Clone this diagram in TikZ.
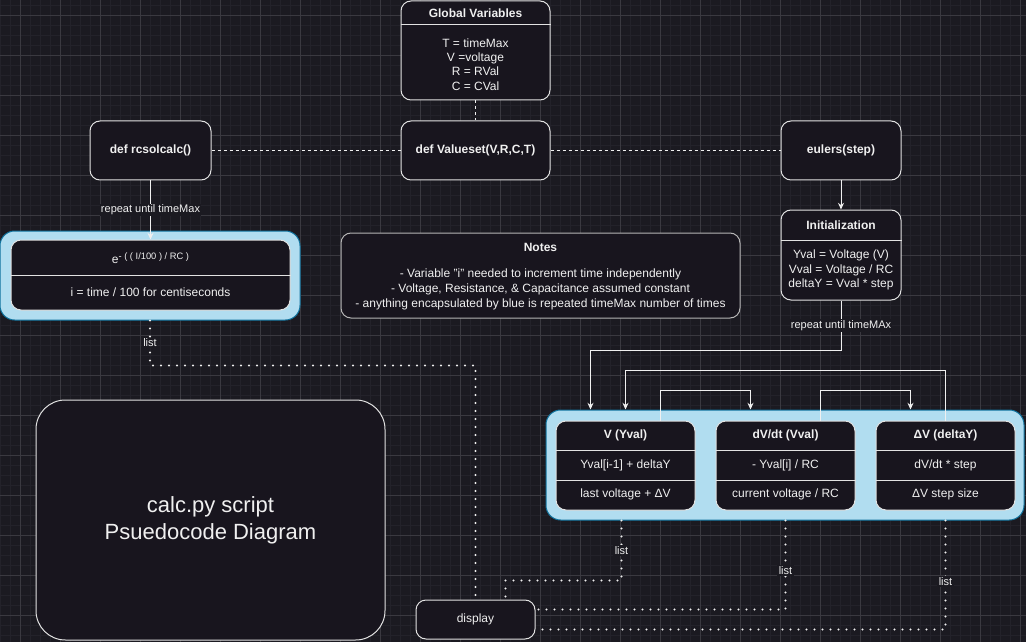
\documentclass[tikz,border=0pt]{standalone}
\usepackage{fontspec}
\setmainfont{Liberation Sans}
\usetikzlibrary{fit,calc,arrows.meta}
\tikzset{>={Stealth[length=5pt,width=4.5pt]}}

\definecolor{canvas}{HTML}{1B1A21}
\definecolor{cellfill}{HTML}{18151E}
\definecolor{gridmajor}{HTML}{3A3940}
\definecolor{gridminor}{HTML}{23222A}
\definecolor{wrapfill}{HTML}{B1DDF0}
\definecolor{wrapline}{HTML}{10739E}
\definecolor{ink}{HTML}{F0F0F0}
\definecolor{edge}{HTML}{E2E2E2}

\tikzset{
  cellbox/.style={draw=edge, fill=cellfill, line width=0.75pt, rounded corners=7.5pt, inner sep=0pt},
  notebox/.style={cellbox, draw=edge!80!black},
  bluewrap/.style={draw=wrapline, fill=wrapfill, line width=0.75pt, rounded corners=11pt, inner sep=0pt},
  rowsep/.style={draw=edge, line width=0.75pt},
  celltext/.style={text=ink, font=\fontsize{9}{10.8}\selectfont, align=center, inner sep=1pt},
  headtext/.style={celltext, font=\fontsize{9}{10.8}\selectfont\bfseries},
  edgetext/.style={text=ink, fill=canvas, font=\fontsize{8.25}{9.9}\selectfont, inner sep=1pt},
  flow/.style={->, draw=ink, line width=0.75pt},
  linkdash/.style={draw=ink, line width=0.75pt, dash pattern=on 2.25pt off 2.25pt},
  listdots/.style={draw=ink, line width=1.6pt, dash pattern=on 0pt off 6pt, line cap=round},
}

\begin{document}
\begin{tikzpicture}[x=0.75pt, y=-0.75pt]
  % canvas and grid
  \fill[canvas] (0,0) rectangle (1026,642);
  \useasboundingbox (0,0) rectangle (1026,642);
  \foreach \gx in {0,10,...,1020} \draw[gridminor, line width=0.5pt] (\gx,0) -- (\gx,642);
  \foreach \gy in {5,15,...,635} \draw[gridminor, line width=0.5pt] (0,\gy) -- (1026,\gy);
  \foreach \gx in {20,60,...,1020} \draw[gridmajor, line width=0.6pt] (\gx,0) -- (\gx,642);
  \foreach \gy in {15,55,...,635} \draw[gridmajor, line width=0.6pt] (0,\gy) -- (1026,\gy);

  % global variables
  \node[cellbox, fit={(401,1) (550,100)}] (gv) {};
  \draw[rowsep] (gv.west |- 0,25) -- (gv.east |- 0,25);
  \node[headtext] at (gv.north |- 0,13) {Global Variables};
  \node[celltext] at (gv.north |- 0,64.5) {T = timeMax\\V =voltage\\R = RVal\\C = CVal};

  % functions
  \node[cellbox, fit={(401,121) (550,180)}] (vs) {};
  \node[headtext] at (vs.center) {def Valueset(V,R,C,T)};
  \node[cellbox, fit={(90,121) (211,180)}] (rc) {};
  \node[headtext] at (rc.center) {def rcsolcalc()};
  \node[cellbox, fit={(781,121) (901,180)}] (eu) {};
  \node[headtext] at (eu.center) {eulers(step)};

  % initialization
  \node[cellbox, fit={(781,210) (901,300)}] (init) {};
  \draw[rowsep] (init.west |- 0,240) -- (init.east |- 0,240);
  \node[headtext] at (init.north |- 0,225) {Initialization};
  \node[celltext] at (init.north |- 0,270) {Yval = Voltage (V)\\Vval = Voltage / RC\\deltaY = Vval * step};

  % exponential block
  \node[bluewrap, fit={(0,231) (300,320)}] (lwrap) {};
  \node[cellbox, fit={(11,240) (290,310)}] (lin) {};
  \draw[rowsep] (lin.west |- 0,275) -- (lin.east |- 0,275);
  \node[celltext] at (lin.north |- 0,258) {e\raisebox{0.6ex}{\fontsize{7}{8}\selectfont - ( ( I/100 ) / RC )}};
  \node[celltext] at (lin.north |- 0,292) {i = time / 100 for centiseconds};

  % notes
  \node[notebox, fit={(341,233) (740,318)}] (notes) {};
  \node[headtext] at (notes.north |- 0,247) {Notes};
  \node[celltext, font=\fontsize{9}{11.25}\selectfont] at (notes.north |- 0,289)
    {- Variable "i" needed to increment time independently\\- Voltage, Resistance, \& Capacitance assumed constant\\- anything encapsulated by blue is repeated timeMax number of times};

  % title
  \node[cellbox, rounded corners=22pt, fit={(36,400) (385,640)}] (title) {};
  \node[text=ink, align=center, font=\fontsize{16.5}{20}\selectfont] at (title.center) {calc.py script\\Psuedocode Diagram};

  % euler loop block
  \node[bluewrap, fit={(546,410) (1024,520)}] (rwrap) {};
  \foreach \nm/\xa/\xb/\hd/\ra/\rb in {
      vb/556/695/{V (Yval)}/{Yval[i-1] + deltaY}/{last voltage + ΔV},
      dv/716/855/{dV/dt (Vval)}/{- Yval[i] / RC}/{current voltage / RC},
      dy/876/1015/{ΔV (deltaY)}/{dV/dt * step}/{ΔV step size}} {
    \node[cellbox, fit={(\xa,421) (\xb,510)}] (\nm) {};
    \draw[rowsep] (\nm.west |- 0,450) -- (\nm.east |- 0,450);
    \draw[rowsep] (\nm.west |- 0,480) -- (\nm.east |- 0,480);
    \node[headtext] at (\nm.north |- 0,435.5) {\hd};
    \node[celltext] at (\nm.north |- 0,465) {\ra};
    \node[celltext] at (\nm.north |- 0,494.5) {\rb};
  }

  % display
  \node[cellbox, fit={(416,600) (535,639)}] (disp) {};
  \node[celltext] at (disp.center) {display};

  % dashed links
  \draw[linkdash] (gv.south) -- (vs.north);
  \draw[linkdash] (rc.east) -- (vs.west);
  \draw[linkdash] (vs.east) -- (eu.west);

  % flows
  \draw[flow] (eu.south) -- (init.north);
  \draw[flow] (rc.south) -- node[edgetext] {repeat until timeMax} (lin.north);
  \coordinate (vq1) at ($(vb.north west)!0.25!(vb.north east)$);
  \coordinate (vq3) at ($(vb.north west)!0.75!(vb.north east)$);
  \coordinate (dq1) at ($(dv.north west)!0.25!(dv.north east)$);
  \coordinate (dq3) at ($(dv.north west)!0.75!(dv.north east)$);
  \coordinate (yq1) at ($(dy.north west)!0.25!(dy.north east)$);
  \draw[flow] (init.south) -- node[edgetext] {repeat until timeMAx} ++(0,50) -| (vq1 |- rwrap.north);
  \draw[flow] (dy.north) -- ++(0,-50) -| (vb.north |- rwrap.north);
  \draw[flow] (vq3) -- ++(0,-30) -| (dq1 |- rwrap.north);
  \draw[flow] (dq3) -- ++(0,-30) -| (yq1 |- rwrap.north);

  % list outputs
  \draw[listdots] (lwrap.south) -- node[edgetext] {list} ++(0,45) -| (disp.north);
  \draw[listdots] (vb.south |- rwrap.south) ++(-4,0) -- node[edgetext] {list} ++(0,60) -| ($(disp.north)!0.5!(disp.north east)$);
  \draw[listdots] (dv.south |- rwrap.south) |- node[edgetext, pos=0.28] {list} ($(disp.east)!0.5!(disp.north east)$);
  \draw[listdots] (dy.south |- rwrap.south) |- node[edgetext, pos=0.28] {list} ($(disp.east)!0.5!(disp.south east)$);
\end{tikzpicture}
\end{document}
